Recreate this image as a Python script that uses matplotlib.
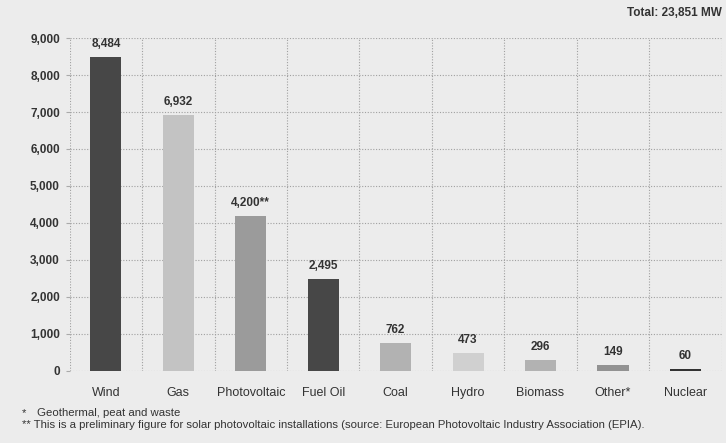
import matplotlib.pyplot as plt
import numpy as np

categorias = ["Wind", "Gas", "Photovoltaic", "Fuel Oil", "Coal", "Hydro", "Biomass", "Other*", "Nuclear"]
valores = [8484, 6932, 4200, 2495, 762, 473, 296, 149, 60]
rotulos = ["8,484", "6,932", "4,200**", "2,495", "762", "473", "296", "149", "60"]
cores = ["#474747", "#c3c3c3", "#9b9b9b", "#474747", "#b2b2b2", "#d0d0d0", "#b2b2b2", "#929292", "#333333"]
yticks = [0, 1000, 2000, 3000, 4000, 5000, 6000, 7000, 8000, 9000]

plt.rcParams['font.family'] = ['Liberation Sans Narrow', 'Liberation Sans', 'DejaVu Sans']
fundo = "#ececec"
texto = "#333333"

fig = plt.figure(figsize=(7.26, 4.43), dpi=100, facecolor=fundo)
ax = fig.add_axes([0.096, 0.163, 0.898, 0.751], facecolor=fundo)

x = np.arange(len(categorias))
ax.bar(x, valores, width=0.43, color=cores, zorder=3)

for xi, v, r in zip(x, valores, rotulos):
    ax.annotate(r, (xi, v), xytext=(0, 5), textcoords="offset points",
                ha="center", va="bottom", fontsize=8.5, fontweight="bold",
                color=texto, clip_on=False, zorder=4)

ax.set_xlim(-0.5, len(categorias) - 0.5)
ax.set_ylim(0, 9000)
ax.set_yticks(yticks)
ax.set_yticklabels([f"{t:,}" for t in yticks], fontsize=8.5, color=texto, fontweight="bold")
ax.set_xticks(x)
ax.set_xticklabels(categorias, fontsize=9, color=texto)
ax.tick_params(axis="x", length=0, pad=12)
ax.tick_params(axis="y", length=3, color="#aaaaaa", pad=4)

# linhas de grade pontilhadas
for t in yticks:
    ax.axhline(t, color="#a0a0a0", linestyle=(0, (1, 1.5)), linewidth=0.8, zorder=1)
for b in np.arange(-0.5, len(categorias), 1.0):
    ax.axvline(b, color="#a0a0a0", linestyle=(0, (1, 1.5)), linewidth=0.8, zorder=1)

for s in ax.spines.values():
    s.set_visible(False)

fig.text(0.994, 0.97, "Total: 23,851 MW", ha="right", va="center",
         fontsize=8.5, fontweight="bold", color=texto)
fig.text(0.03, 0.068, "*", ha="left", va="center", fontsize=8.2, color=texto)
fig.text(0.051, 0.068, "Geothermal, peat and waste", ha="left", va="center", fontsize=8.2, color=texto)
fig.text(0.03, 0.04, "** This is a preliminary figure for solar photovoltaic installations (source: European Photovoltaic Industry Association (EPIA).",
         ha="left", va="center", fontsize=8.2, color=texto)

fig.savefig("out.png", dpi=100, facecolor=fundo)
